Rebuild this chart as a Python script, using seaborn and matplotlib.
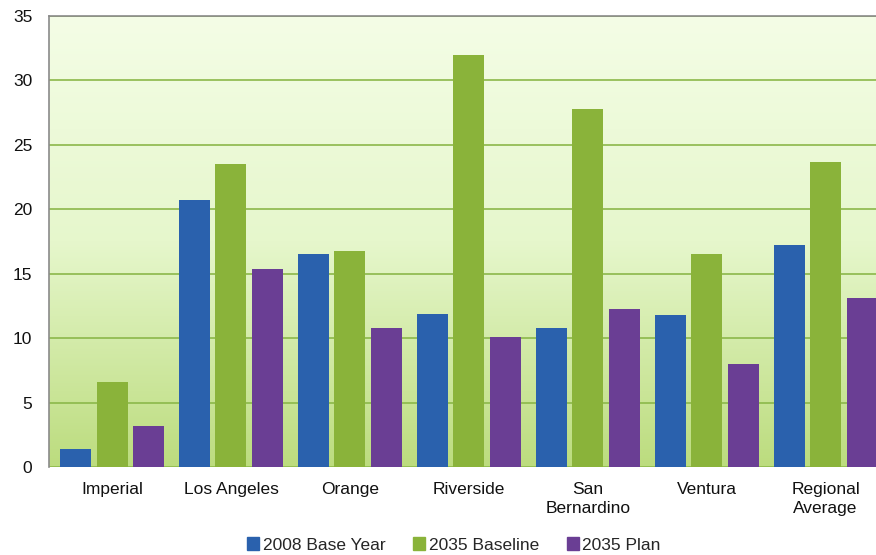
import numpy as np
import pandas as pd
import seaborn as sns
import matplotlib
matplotlib.use("Agg")
from matplotlib import pyplot as plt
from matplotlib.colors import LinearSegmentedColormap

# Data
counties = ["Imperial", "Los Angeles", "Orange", "Riverside",
            "San\nBernardino", "Ventura", "Regional\nAverage"]
base_2008 = [1.4, 20.7, 16.5, 11.9, 10.8, 11.8, 17.2]
baseline_2035 = [6.6, 23.5, 16.8, 32.0, 27.8, 16.5, 23.7]
plan_2035 = [3.2, 15.4, 10.8, 10.1, 12.3, 8.0, 13.1]
series = ["2008 Base Year", "2035 Baseline", "2035 Plan"]

df = pd.DataFrame({
    "county": counties * 3,
    "value": base_2008 + baseline_2035 + plan_2035,
    "series": [s for s in series for _ in counties],
})

sns.set_style("white")
plt.rcParams["font.family"] = ["Liberation Sans", "DejaVu Sans"]

fig = plt.figure(figsize=(8.76, 5.55), dpi=100)
# plot area runs slightly past the right edge of the image
ax = fig.add_axes([49 / 876, 88 / 555, 836 / 876, 451 / 555])

# gradient plot background
grad = LinearSegmentedColormap.from_list("bg", ["#bcdc7e", "#e6f7cc", "#f4fde6"])
ax.imshow(np.linspace(0, 1, 256).reshape(-1, 1), cmap=grad, origin="lower",
          aspect="auto", extent=(-0.53, 6.5, 0, 35), zorder=0)

palette = {"2008 Base Year": "#2a61ad", "2035 Baseline": "#8ab33a", "2035 Plan": "#6a3e94"}
sns.barplot(data=df, x="county", y="value", hue="series", palette=palette,
            width=0.92, gap=0.15, saturation=1, ax=ax, zorder=3,
            edgecolor="none", legend=False)

ax.set_xlim(-0.53, 6.5)
ax.set_ylim(0, 35)
ax.set_yticks(range(0, 36, 5))
ax.yaxis.grid(True, color="#8cb84a", linewidth=1.2)
ax.set_axisbelow(True)
for gl in ax.get_ygridlines():
    gl.set_zorder(1)
ax.set_xlabel("")
ax.set_ylabel("")

for side in ["left", "top"]:
    ax.spines[side].set_color("#8a8a8a")
    ax.spines[side].set_linewidth(1.2)
ax.spines["right"].set_visible(False)
ax.spines["bottom"].set_visible(False)
ax.tick_params(axis="both", length=0, labelsize=12.5, colors="#111111")
ax.tick_params(axis="x", pad=11)
ax.tick_params(axis="y", pad=12)
for lbl in ax.get_xticklabels():
    lbl.set_linespacing(1.3)

handles = [plt.Rectangle((0, 0), 1, 1, color=palette[s]) for s in series]
fig.legend(handles, series, loc="center", bbox_to_anchor=(454 / 876, 10 / 555),
           ncol=3, frameon=False, fontsize=12.5, handlelength=0.7,
           handleheight=0.7, handletextpad=0.2, columnspacing=1.6,
           borderpad=0, borderaxespad=0)

fig.savefig("out.png", dpi=100)
